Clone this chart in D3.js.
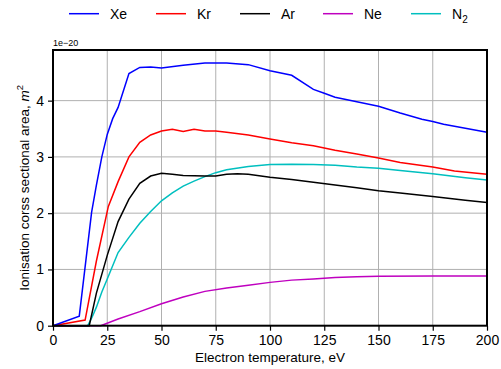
<!DOCTYPE html>
<html>
<head>
<meta charset="utf-8">
<script src="https://cdn.jsdelivr.net/npm/d3@7"></script>
<style>
  body { margin: 0; background: #fff; }
  svg text { font-family: "Liberation Sans", Arial, sans-serif; fill: #000; }
</style>
</head>
<body>
<svg id="chart" width="501" height="369"></svg>
<script>
// energies (eV) and cross sections (units of 1e-20 m^2)
var xeE = [0, 12.1, 17.8, 20, 22.5, 25, 27.5, 30, 35, 40, 45, 50, 60, 70, 80, 90, 100, 110, 120, 125, 130, 140, 150, 160, 170, 175, 180, 190, 200];
var xeV = [0, 0.17, 2.02, 2.5, 3.0, 3.4, 3.68, 3.88, 4.48, 4.59, 4.6, 4.58, 4.63, 4.67, 4.67, 4.64, 4.53, 4.45, 4.2, 4.13, 4.06, 3.98, 3.9, 3.78, 3.67, 3.63, 3.58, 3.51, 3.44];

var krE = [0, 14.8, 20, 25.5, 30, 35, 40, 45, 50, 55, 60, 65, 70, 75, 80, 90, 100, 110, 120, 130, 140, 150, 160, 175, 185, 200];
var krV = [0, 0.1, 1.15, 2.12, 2.56, 3.0, 3.26, 3.39, 3.46, 3.49, 3.45, 3.49, 3.46, 3.46, 3.44, 3.39, 3.32, 3.25, 3.2, 3.12, 3.05, 2.98, 2.9, 2.82, 2.75, 2.69];

var arE = [0, 16.7, 20, 25, 30, 35, 40, 45, 50, 55, 60, 70, 75, 80, 85, 90, 100, 110, 120, 130, 140, 150, 160, 175, 190, 200];
var arV = [0, 0, 0.58, 1.25, 1.85, 2.25, 2.53, 2.66, 2.71, 2.69, 2.67, 2.66, 2.66, 2.69, 2.7, 2.69, 2.64, 2.6, 2.55, 2.5, 2.45, 2.4, 2.36, 2.295, 2.23, 2.19];

var neE = [0, 22, 30, 40, 50, 60, 70, 80, 90, 100, 110, 120, 130, 140, 150, 175, 200];
var neV = [0, 0, 0.12, 0.25, 0.39, 0.51, 0.61, 0.67, 0.72, 0.77, 0.81, 0.83, 0.855, 0.87, 0.88, 0.885, 0.885];

var n2E = [0, 16, 18, 20, 22.5, 25, 30, 35, 40, 45, 50, 55, 60, 65, 70, 75, 80, 90, 100, 110, 120, 130, 140, 150, 160, 175, 190, 200];
var n2V = [0, 0, 0.15, 0.33, 0.6, 0.83, 1.3, 1.57, 1.82, 2.03, 2.22, 2.36, 2.48, 2.57, 2.65, 2.72, 2.77, 2.83, 2.865, 2.87, 2.865, 2.85, 2.82, 2.8, 2.76, 2.7, 2.63, 2.59];

var names = ["Xe", "Kr", "Ar", "Ne", "N2"];
var colors = ["#0000ff", "#ff0000", "#000000", "#bf00bf", "#00bfbf"];
var xTicks = [0, 25, 50, 75, 100, 125, 150, 175, 200];
var yTicks = [0, 1, 2, 3, 4];

var series = [[xeE, xeV], [krE, krV], [arE, arV], [neE, neV], [n2E, n2V]];

var svg = d3.select("#chart");
var pLeft = 53, pRight = 487, pTop = 50, pBottom = 325.7;

var x = d3.scaleLinear().domain([0, 200]).range([pLeft, pRight]);
var y = d3.scaleLinear().domain([0, 4.9]).range([pBottom, pTop]);

// grid
svg.append("g").selectAll("line").data(xTicks.slice(1, -1)).join("line")
  .attr("x1", d => x(d)).attr("x2", d => x(d))
  .attr("y1", pTop).attr("y2", pBottom)
  .attr("stroke", "#b0b0b0").attr("stroke-width", 1);
svg.append("g").selectAll("line").data(yTicks.slice(1)).join("line")
  .attr("x1", pLeft).attr("x2", pRight)
  .attr("y1", d => y(d)).attr("y2", d => y(d))
  .attr("stroke", "#b0b0b0").attr("stroke-width", 1);

// curves
var line = d3.line().x(d => x(d[0])).y(d => y(d[1]));
var order = [4, 3, 1, 0, 2];
order.forEach(function (i) {
  var pts = series[i][0].map((e, k) => [e, series[i][1][k]]);
  svg.append("path").datum(pts)
    .attr("d", line)
    .attr("fill", "none")
    .attr("stroke", colors[i])
    .attr("stroke-width", 1.5);
});

// axes
var xAxis = d3.axisBottom(x).tickValues(xTicks).tickFormat(d3.format("d")).tickSize(5).tickPadding(4);
var yAxis = d3.axisLeft(y).tickValues(yTicks).tickFormat(d3.format("d")).tickSize(5).tickPadding(4);
var gx = svg.append("g").attr("transform", "translate(0," + pBottom + ")").call(xAxis);
var gy = svg.append("g").attr("transform", "translate(" + pLeft + ",0)").call(yAxis);
[gx, gy].forEach(function (g) {
  g.select(".domain").remove();
  g.selectAll("line").attr("stroke", "#000").attr("stroke-width", 1.2);
  g.selectAll("text").attr("font-size", 14).attr("font-family", "Liberation Sans, Arial, sans-serif").attr("fill", "#000");
});

// frame
svg.append("rect")
  .attr("x", pLeft).attr("y", pTop)
  .attr("width", pRight - pLeft).attr("height", pBottom - pTop)
  .attr("fill", "none").attr("stroke", "#000").attr("stroke-width", 2);

// offset label
svg.append("text").attr("x", pLeft).attr("y", 46).attr("font-size", 9).text("1e\u221220");

// axis labels
svg.append("text").attr("x", (pLeft + pRight) / 2).attr("y", 362)
  .attr("text-anchor", "middle").attr("font-size", 13.5)
  .text("Electron temperature, eV");

var yl = svg.append("text")
  .attr("transform", "translate(28.5," + (pTop + pBottom) / 2 + ") rotate(-90)")
  .attr("text-anchor", "middle").attr("font-size", 13.5);
yl.append("tspan").text("Ionisation corss sectional area, ");
yl.append("tspan").attr("font-style", "italic").text("m");
yl.append("tspan").attr("font-size", 9.5).attr("dy", -6).text("2");

// legend
var legX = [69, 156, 240, 323, 411];
var leg = svg.append("g");
names.forEach(function (n, i) {
  leg.append("line")
    .attr("x1", legX[i]).attr("x2", legX[i] + 30)
    .attr("y1", 13.7).attr("y2", 13.7)
    .attr("stroke", colors[i]).attr("stroke-width", 1.5);
  var t = leg.append("text").attr("x", legX[i] + 41).attr("y", 19).attr("font-size", 14);
  if (n === "N2") {
    t.append("tspan").text("N");
    t.append("tspan").attr("font-size", 10).attr("dy", 4).text("2");
  } else {
    t.text(n);
  }
});
</script>
</body>
</html>
